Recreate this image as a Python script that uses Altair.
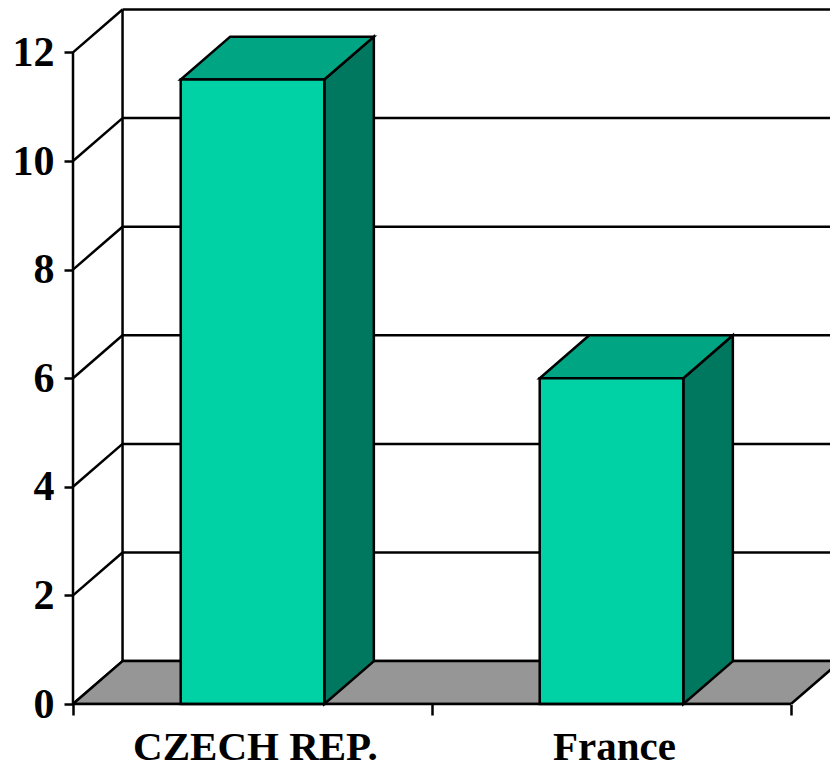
import altair as alt
import pandas as pd

# Chart values
countries = ["CZECH REP.", "France"]
rates = [11.5, 6.0]
y_ticks = [0, 2, 4, 6, 8, 10, 12]
x_ticks = [0, 1, 2]

# Category slots span one x unit; bars take 40% of a slot
BAR_W = 0.4
# Oblique depth of the 3-D box, in x units and y units
DX, DY = 0.138, 0.79

PX_PER_X, PX_PER_Y = 359.0, 54.3
PLOT_W, PLOT_H = 757, 704

x_scale = alt.Scale(domain=[0, PLOT_W / PX_PER_X], nice=False, zero=False)
y_scale = alt.Scale(domain=[0, PLOT_H / PX_PER_Y], nice=False, zero=False)
X_END = PLOT_W / PX_PER_X + 0.2

FRONT, TOP, SIDE, FLOOR = "#00D2A6", "#00A583", "#00785F", "#969696"
SERIF = "Liberation Serif"
STROKE = 2.5

# Both axes are shared by every layer
y_axis = alt.Axis(
    values=y_ticks, domain=False, grid=False, tickSize=9, tickWidth=STROKE, tickColor="black",
    labelFont=SERIF, labelFontSize=42, labelFontWeight="bold", labelColor="black", labelPadding=10,
)
x_axis = alt.Axis(
    values=x_ticks, domain=False, grid=False, tickSize=11, tickWidth=STROKE, tickColor="black",
    labels=False,
)


def qx(field):
    return alt.X(f"{field}:Q", scale=x_scale, axis=x_axis, title=None)


def qy(field):
    return alt.Y(f"{field}:Q", scale=y_scale, axis=y_axis, title=None)


# Back wall: level lines running to the right edge
wall_df = pd.DataFrame({"y": y_ticks})
wall_df["yb"] = wall_df["y"] + DY
wall_df["xb"] = DX
wall_df["xe"] = X_END
wall = alt.Chart(wall_df).mark_rule(color="black", strokeWidth=STROKE, clip=True).encode(
    x=qx("xb"), x2="xe:Q", y=qy("yb")
)

# Oblique side-wall lines from each y tick to the back wall
diag_rows = []
for t in y_ticks:
    diag_rows += [{"lvl": t, "x": 0, "y": t}, {"lvl": t, "x": DX, "y": t + DY}]
diagonals = alt.Chart(pd.DataFrame(diag_rows)).mark_line(color="black", strokeWidth=STROKE).encode(
    x=qx("x"), y=qy("y"), detail="lvl:N"
)

# Back-left vertical edge
back_edge = alt.Chart(pd.DataFrame({"x": [DX], "y": [DY], "y2": [12 + DY]})).mark_rule(
    color="black", strokeWidth=STROKE
).encode(x=qx("x"), y=qy("y"), y2="y2:Q")

# Grey floor parallelogram
floor_df = pd.DataFrame({"y": [0, DY], "x": [0, DX], "x2": [2, 2 + DX]})
floor = alt.Chart(floor_df).mark_area(
    orient="horizontal", color=FLOOR, stroke="black", strokeWidth=STROKE, clip=True
).encode(x=qx("x"), x2="x2:Q", y=qy("y"))

# Box faces for each bar
front_rows, top_rows, side_rows = [], [], []
for i, (name, v) in enumerate(zip(countries, rates)):
    left = i + 0.5 - BAR_W / 2
    right = i + 0.5 + BAR_W / 2
    front_rows.append({"name": name, "x": left, "x2": right, "y": 0, "y2": v})
    top_rows += [
        {"name": name, "y": v, "x": left, "x2": right},
        {"name": name, "y": v + DY, "x": left + DX, "x2": right + DX},
    ]
    side_rows += [
        {"name": name, "x": right, "y": 0, "y2": v},
        {"name": name, "x": right + DX, "y": DY, "y2": v + DY},
    ]

fronts = alt.Chart(pd.DataFrame(front_rows)).mark_rect(
    color=FRONT, stroke="black", strokeWidth=STROKE
).encode(x=qx("x"), x2="x2:Q", y=qy("y"), y2="y2:Q")

tops = alt.Chart(pd.DataFrame(top_rows)).mark_area(
    orient="horizontal", color=TOP, stroke="black", strokeWidth=STROKE
).encode(x=qx("x"), x2="x2:Q", y=qy("y"), detail="name:N")

sides = alt.Chart(pd.DataFrame(side_rows)).mark_area(
    color=SIDE, stroke="black", strokeWidth=STROKE
).encode(x=qx("x"), y=qy("y"), y2="y2:Q", detail="name:N")

# Front axis lines
y_line = alt.Chart(pd.DataFrame({"x": [0], "y": [0], "y2": [max(y_ticks)]})).mark_rule(
    color="black", strokeWidth=STROKE
).encode(x=qx("x"), y=qy("y"), y2="y2:Q")
x_line = alt.Chart(pd.DataFrame({"y": [0], "x": [0], "x2": [2]})).mark_rule(
    color="black", strokeWidth=STROKE
).encode(x=qx("x"), x2="x2:Q", y=qy("y"))

# Category names under the floor
label_df = pd.DataFrame({"name": countries, "x": [0.508, 1.508], "y": [-1.04, -1.04]})
labels = alt.Chart(label_df).mark_text(
    font=SERIF, fontSize=41, fontWeight="bold", color="black", baseline="alphabetic", align="center"
).encode(x=qx("x"), y=qy("y"), text="name:N")

chart = alt.layer(
    wall, diagonals, back_edge, floor, sides, tops, fronts, y_line, x_line, labels
).properties(
    width=PLOT_W,
    height=PLOT_H,
    autosize=alt.AutoSizeParams(type="none"),
    padding={"left": 73, "top": 0, "right": 0, "bottom": 66},
    background="white",
).configure_view(stroke=None)

chart.save("out.html", embed_options={"renderer": "svg", "actions": False})
